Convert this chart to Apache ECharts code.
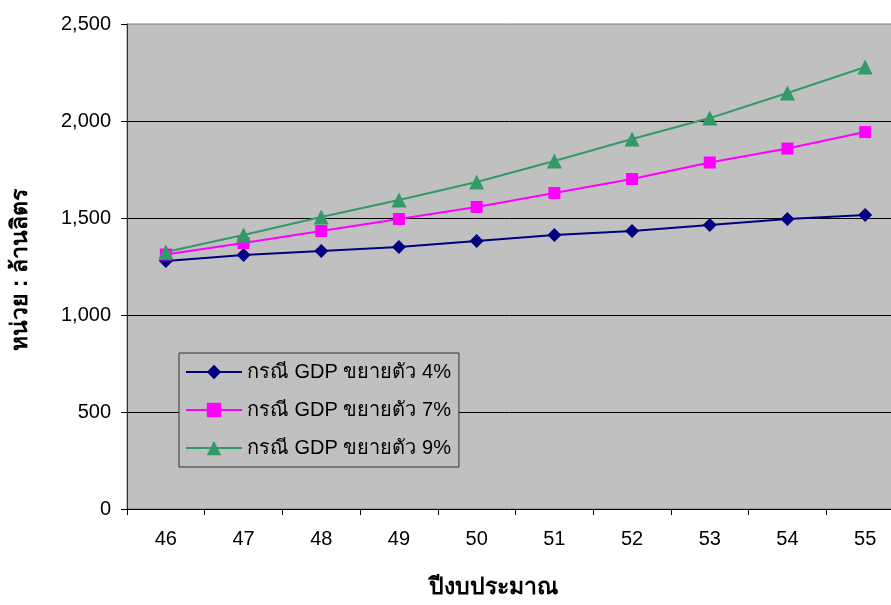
<!DOCTYPE html>
<html><head><meta charset="utf-8">
<script src="https://cdn.jsdelivr.net/npm/echarts@6/dist/echarts.min.js"></script>
<style>html,body{margin:0;padding:0;background:#fff}#c{width:891px;height:605px}</style>
</head><body><div id="c"></div>
<script>
const categories = ['46','47','48','49','50','51','52','53','54','55'];
const seriesNames = ['กรณี GDP ขยายตัว 4%','กรณี GDP ขยายตัว 7%','กรณี GDP ขยายตัว 9%'];
const gdp4 = [1278,1309,1330,1351,1381,1412,1433,1464,1495,1515];
const gdp7 = [1312,1371,1433,1495,1557,1629,1701,1786,1858,1943];
const gdp9 = [1325,1412,1505,1593,1686,1794,1907,2015,2144,2278];
const yTicks = {min:0,max:2500,interval:500};
const xTitle = 'ปีงบประมาณ';
const yTitle = 'หน่วย : ล้านลิตร';

const font = "'Liberation Sans', Arial, 'Noto Sans', sans-serif";
const chart = echarts.init(document.getElementById('c'), null, {renderer:'canvas'});
chart.setOption({
  animation:false,
  backgroundColor:'#ffffff',
  textStyle:{fontFamily:font},
  grid:{left:127,top:24,width:777,height:485,outerBoundsMode:'none',containLabel:false,
    show:true,backgroundColor:'#C0C0C0',borderColor:'#808080',borderWidth:1},
  legend:{
    orient:'vertical',left:179,top:353,itemGap:14,itemWidth:56,itemHeight:18,
    backgroundColor:'#C0C0C0',borderColor:'#333333',borderWidth:1,padding:[7,8,7,6],
    textStyle:{fontSize:20,lineHeight:24,color:'#000',fontFamily:font},
    data:seriesNames.map(n=>({name:n}))
  },
  graphic:[
    {type:'text',style:{text:xTitle,fontSize:23,fontWeight:'bold',fill:'#000',fontFamily:font,align:'center',verticalAlign:'middle'},x:493,y:588},
    {type:'text',rotation:Math.PI/2,style:{text:yTitle,fontSize:23,fontWeight:'bold',fill:'#000',fontFamily:font,align:'center',verticalAlign:'middle'},x:21,y:270}
  ],
  xAxis:{
    type:'category',data:categories,boundaryGap:true,
    axisLine:{lineStyle:{color:'#000',width:1}},
    axisTick:{show:true,length:6,lineStyle:{color:'#000'},alignWithLabel:false},
    axisLabel:{fontSize:20,color:'#000',margin:20,fontFamily:font},
    splitLine:{show:false}
  },
  yAxis:{
    type:'value',min:yTicks.min,max:yTicks.max,interval:yTicks.interval,
    axisLine:{show:true,lineStyle:{color:'#333',width:1}},
    axisTick:{show:true,length:6,lineStyle:{color:'#000'}},
    axisLabel:{fontSize:20,color:'#000',margin:16,fontFamily:font,
      formatter:v=>v.toLocaleString('en-US')},
    splitLine:{show:true,showMinLine:false,showMaxLine:false,lineStyle:{color:'#000',width:1}}
  },
  series:[
    {name:seriesNames[0],type:'line',data:gdp4,symbol:'diamond',symbolSize:14,
     itemStyle:{color:'#000080'},lineStyle:{color:'#000080',width:2}},
    {name:seriesNames[1],type:'line',data:gdp7,symbol:'rect',symbolSize:12,
     itemStyle:{color:'#FF00FF'},lineStyle:{color:'#FF00FF',width:2}},
    {name:seriesNames[2],type:'line',data:gdp9,symbol:'triangle',symbolSize:15,
     itemStyle:{color:'#339966'},lineStyle:{color:'#339966',width:2}}
  ]
});
</script></body></html>
